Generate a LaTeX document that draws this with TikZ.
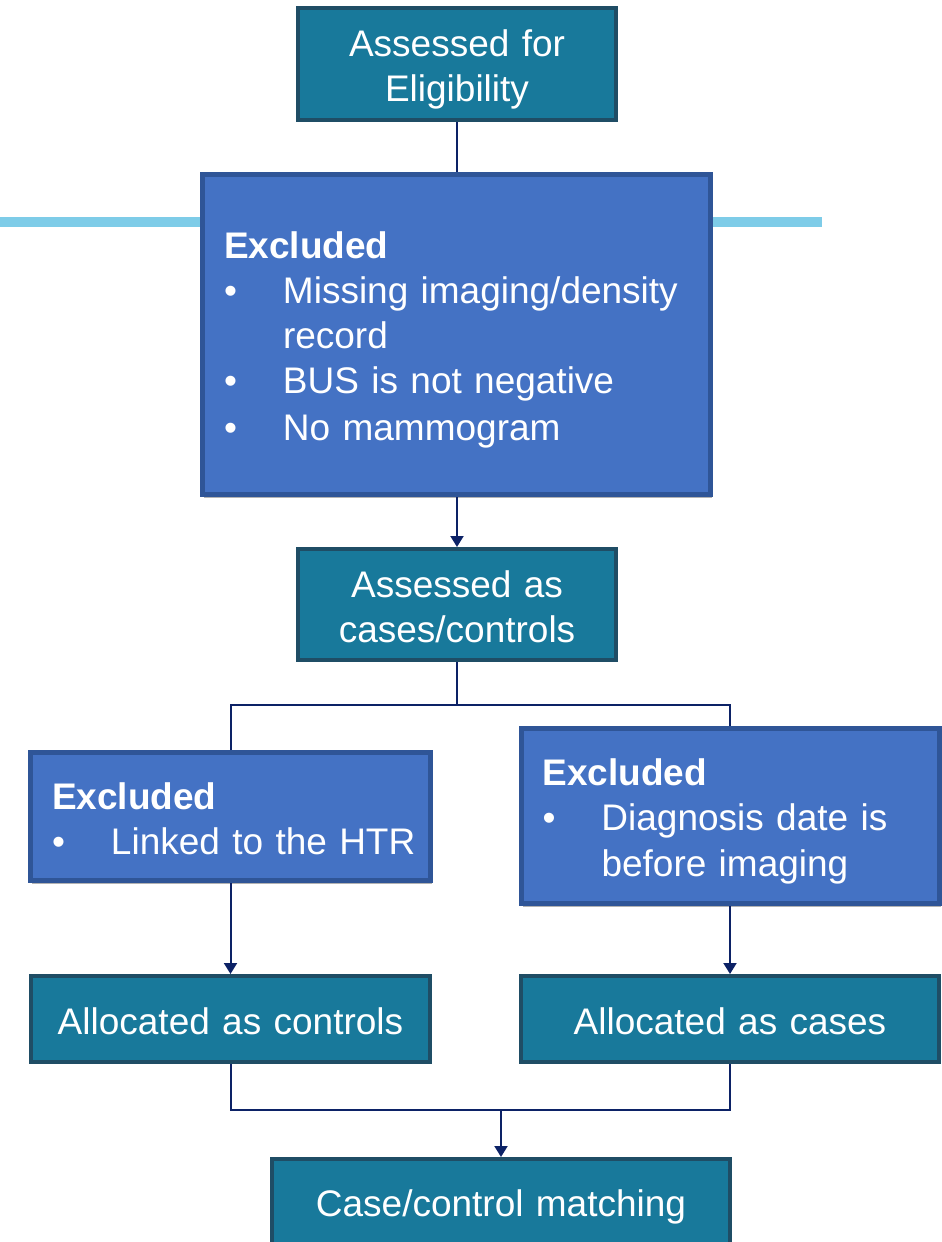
\documentclass[tikz,border=0pt]{standalone}
\usepackage{fontspec}
\setmainfont{Liberation Sans}
\usepackage{xcolor}
\usetikzlibrary{arrows.meta,shadows}

\definecolor{tealbox}{RGB}{24,121,155}
\definecolor{tealedge}{RGB}{31,77,101}
\definecolor{bluebox}{RGB}{68,114,196}
\definecolor{blueedge}{RGB}{47,85,151}
\definecolor{navyline}{RGB}{12,34,102}
\definecolor{skyband}{RGB}{126,204,232}

\newcommand{\linestrut}{\rule[-7.5pt]{0pt}{45pt}}
\newcommand{\exclitem}[1]{\makebox[59pt][l]{\textbullet}\mbox{#1}}
\newcommand{\exclindent}{\hspace*{59pt}}

\begin{document}
\begin{tikzpicture}[x=1pt, y=-1pt,
	procbox/.style={rectangle, draw=tealedge, line width=4pt, fill=tealbox, text=white,
		align=center, inner sep=0pt, font=\fontsize{37}{45}\selectfont,
		execute at begin node=\linestrut, execute at end node=\linestrut},
	exclbox/.style={rectangle, draw=blueedge, line width=5pt, fill=bluebox, text=white,
		align=left, inner sep=0pt, font=\fontsize{37}{45}\selectfont,
		execute at begin node=\linestrut, execute at end node=\linestrut,
		drop shadow={shadow xshift=1.5pt, shadow yshift=-3pt, opacity=0.3, fill=black}},
	flowline/.style={draw=navyline, line width=2pt},
	flowarrow/.style={flowline, -{Triangle[width=13pt,length=11pt]}}]
	\useasboundingbox (0,0) rectangle (942,1242);

	% light band behind the first exclusion box
	\draw[skyband, line width=10pt] (0,222) -- (822,222);

	\node[procbox, text width=318pt, minimum height=112pt] (elig) at (457,64) {Assessed for\\Eligibility};
	\node[exclbox, minimum width=508pt, minimum height=320pt, text width=465pt] (exclA) at (456.5,334.5)
		{\textbf{Excluded}\\
		 \exclitem{Missing imaging/density}\\
		 \exclindent record\\
		 \exclitem{BUS is not negative}\\
		 \exclitem{No mammogram}};
	\node[procbox, text width=318pt, minimum height=111pt] (casectl) at (457,604.5) {Assessed as\\cases/controls};

	\node[exclbox, minimum width=400pt, minimum height=128pt, text width=357pt] (exclL) at (230.5,816.5)
		{\textbf{Excluded}\\
		 \exclitem{Linked to the HTR}};
	\node[exclbox, minimum width=418pt, minimum height=175pt, text width=375pt] (exclR) at (730,816)
		{\textbf{Excluded}\\
		 \exclitem{Diagnosis date is}\\
		 \exclindent before imaging};

	\node[procbox, text width=399pt, minimum height=86pt] (allocL) at (230.5,1019) {Allocated as controls};
	\node[procbox, text width=418pt, minimum height=86pt] (allocR) at (730,1019) {Allocated as cases};
	\node[procbox, text width=458pt, minimum height=86pt] (match) at (501,1202) {Case/control matching};

	\coordinate (split) at (457,705);
	\coordinate (merge) at (501,1110);

	\draw[flowline] (elig.south) -- (elig.south |- exclA.north);
	\draw[flowarrow] (exclA.south -| casectl.north) -- (casectl.north);
	\draw[flowline] (casectl.south) -- (split);
	\draw[flowline] (exclL.north) |- (split) -| (exclR.north);
	\draw[flowarrow] (exclL.south) -- (allocL.north);
	\draw[flowarrow] (exclR.south) -- (allocR.north);
	\draw[flowline] (allocL.south) |- (merge) -| (allocR.south);
	\draw[flowarrow] (merge) -- (match.north);
\end{tikzpicture}
\end{document}
